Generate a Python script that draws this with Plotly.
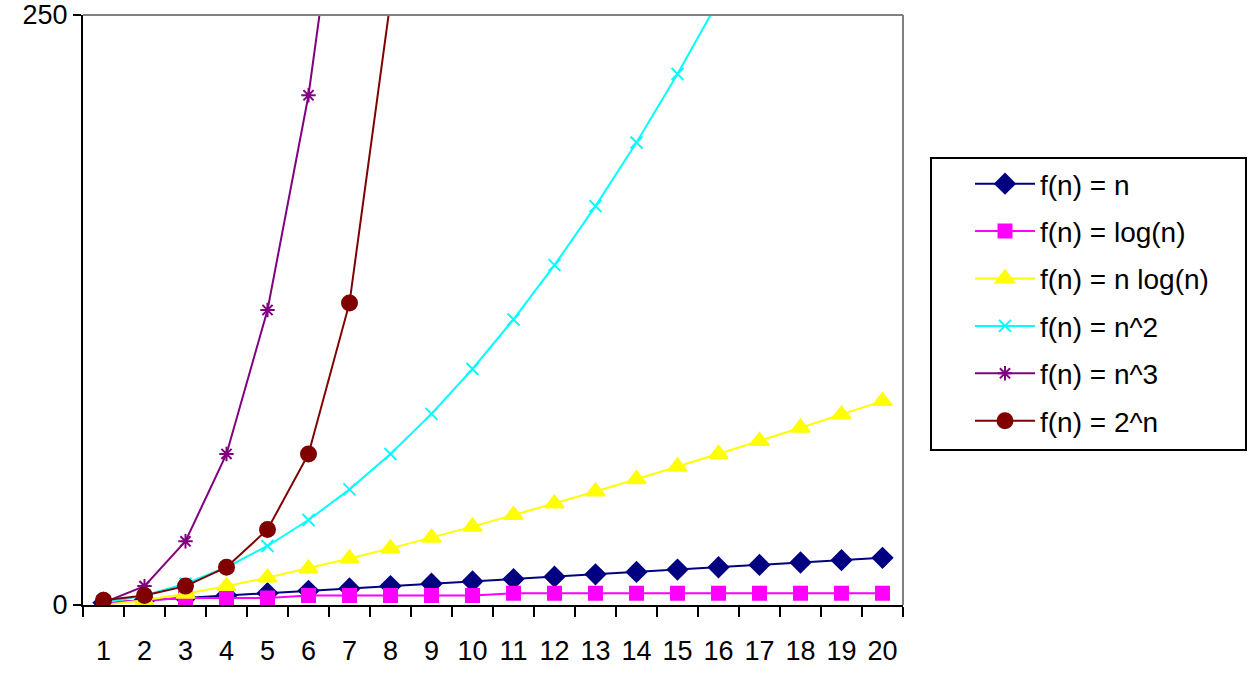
import plotly.graph_objects as go

# --- Data ---
n_labels = [str(i) for i in range(1, 21)]

f_n = [1, 2, 3, 4, 5, 6, 7, 8, 9, 10, 11, 12, 13, 14, 15, 16, 17, 18, 19, 20]
f_log = [1, 2, 3, 3, 3, 4, 4, 4, 4, 4, 5, 5, 5, 5, 5, 5, 5, 5, 5, 5]
f_nlog = [0, 2, 4.75, 8, 11.6, 15.5, 19.7, 24, 28.5, 33.2,
          38.1, 43, 48.1, 53.3, 58.6, 64, 69.5, 75.1, 80.7, 86.4]
f_sq = [1, 4, 9, 16, 25, 36, 49, 64, 81, 100,
        121, 144, 169, 196, 225, 256, 289, 324, 361, 400]
f_cube = [1, 8, 27, 64, 125, 216, 343, 512]
f_exp = [2, 4, 8, 16, 32, 64, 128, 256, 512]

series = [
    ("f(n) = n", f_n, "#000080", "diamond", 15),
    ("f(n) = log(n)", f_log, "#FF00FF", "square", 13),
    ("f(n) = n log(n)", f_nlog, "#FFFF00", "triangle-up", 16),
    ("f(n) = n^2", f_sq, "#00FFFF", "x-thin", 12),
    ("f(n) = n^3", f_cube, "#800080", "asterisk", 12),
    ("f(n) = 2^n", f_exp, "#800000", "circle", 15),
]

fig = go.Figure()
for name, vals, color, symbol, size in series:
    fig.add_trace(go.Scatter(
        x=n_labels[:len(vals)], y=vals, name=name, legendgroup=name,
        mode="lines+markers",
        line=dict(color=color, width=2),
        marker=dict(symbol=symbol, size=size, color=color,
                    line=dict(color=color, width=2)),
    ))

# plot area is x 83..903, y 15..605 px
L, R, T, B = 83, 351, 15, 71
pw, ph = 1254 - L - R, 676 - T - B

def px_x(v):
    return (v - L) / pw

def px_y(v):
    return (676 - B - v) / ph

# gray top/right frame and legend box
fig.add_shape(type="line", xref="paper", yref="paper", x0=0, x1=1, y0=1, y1=1,
              line=dict(color="#808080", width=2))
fig.add_shape(type="line", xref="paper", yref="paper", x0=1, x1=1, y0=0, y1=1,
              line=dict(color="#808080", width=2))
fig.add_shape(type="rect", xref="paper", yref="paper",
              x0=px_x(931), x1=px_x(1246), y0=px_y(450), y1=px_y(158),
              line=dict(color="black", width=2))

fig.update_layout(
    width=1254, height=676,
    margin=dict(l=L, r=R, t=T, b=B),
    plot_bgcolor="white", paper_bgcolor="white",
    font=dict(family="Liberation Sans, Arial", size=27, color="black"),
    showlegend=True,
    legend=dict(x=px_x(970), y=px_y(159), xanchor="left", yanchor="top",
                bgcolor="rgba(0,0,0,0)", borderwidth=0, itemwidth=60,
                tracegroupgap=8, font=dict(size=28)),
    xaxis=dict(type="category", range=[-0.5, 19.5], tickson="boundaries",
               ticks="outside", ticklen=10, tickwidth=2, tickcolor="black",
               ticklabelstandoff=21, automargin=False,
               showline=True, linecolor="black", linewidth=2,
               showgrid=False, zeroline=False, tickfont=dict(size=27)),
    yaxis=dict(range=[0, 250], tickvals=[0, 250], ticks="outside", ticklen=8,
               tickwidth=2, tickcolor="black", showline=True, linecolor="black",
               linewidth=2, showgrid=False, zeroline=False, automargin=False,
               tickfont=dict(size=27)),
)

fig.write_html("out.html", config={"displayModeBar": False},
               post_script="document.body.style.margin='0';")
